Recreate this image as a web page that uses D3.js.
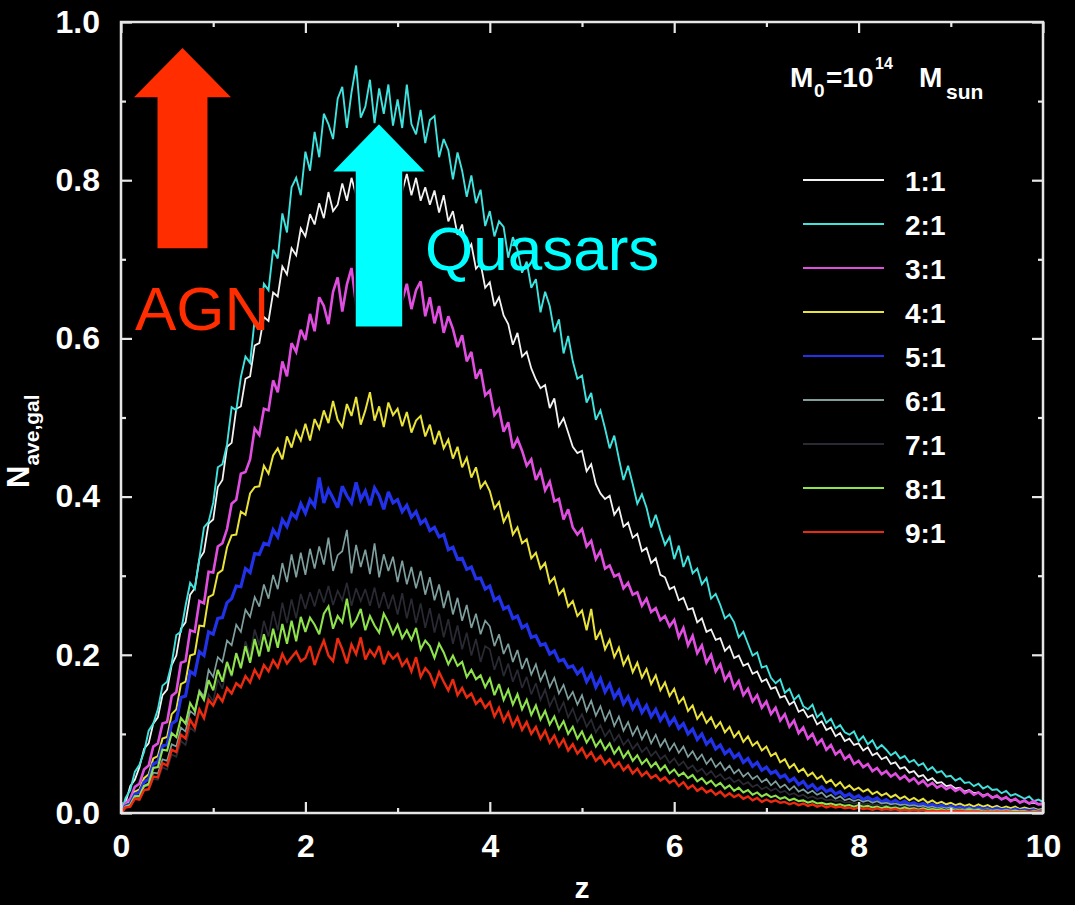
<!DOCTYPE html>
<html><head><meta charset="utf-8">
<script src="https://cdn.jsdelivr.net/npm/d3@7"></script>
<style>html,body{margin:0;padding:0;background:#000;} svg{display:block;}</style>
</head><body>
<svg id="chart" width="1075" height="905"></svg>
<script>
// ---------------- DATA ----------------
const zValues = [
0,0.05,0.1,0.15,0.2,0.25,0.3,0.35,0.4,0.45,0.5,0.55,0.6,0.65,0.7,0.75,0.8,0.85,0.9,0.95,
1,1.05,1.1,1.15,1.2,1.25,1.3,1.35,1.4,1.45,1.5,1.55,1.6,1.65,1.7,1.75,1.8,1.85,1.9,1.95,
2,2.05,2.1,2.15,2.2,2.25,2.3,2.35,2.4,2.45,2.5,2.55,2.6,2.65,2.7,2.75,2.8,2.85,2.9,2.95,
3,3.05,3.1,3.15,3.2,3.25,3.3,3.35,3.4,3.45,3.5,3.55,3.6,3.65,3.7,3.75,3.8,3.85,3.9,3.95,
4,4.05,4.1,4.15,4.2,4.25,4.3,4.35,4.4,4.45,4.5,4.55,4.6,4.65,4.7,4.75,4.8,4.85,4.9,4.95,
5,5.05,5.1,5.15,5.2,5.25,5.3,5.35,5.4,5.45,5.5,5.55,5.6,5.65,5.7,5.75,5.8,5.85,5.9,5.95,
6,6.05,6.1,6.15,6.2,6.25,6.3,6.35,6.4,6.45,6.5,6.55,6.6,6.65,6.7,6.75,6.8,6.85,6.9,6.95,
7,7.05,7.1,7.15,7.2,7.25,7.3,7.35,7.4,7.45,7.5,7.55,7.6,7.65,7.7,7.75,7.8,7.85,7.9,7.95,
8,8.05,8.1,8.15,8.2,8.25,8.3,8.35,8.4,8.45,8.5,8.55,8.6,8.65,8.7,8.75,8.8,8.85,8.9,8.95,
9,9.05,9.1,9.15,9.2,9.25,9.3,9.35,9.4,9.45,9.5,9.55,9.6,9.65,9.7,9.75,9.8,9.85,9.9,9.95,
10];

const seriesLabels = ["1:1","2:1","3:1","4:1","5:1","6:1","7:1","8:1","9:1"];

const ratio1 = [
0.000,0.013,0.034,0.042,0.058,0.081,0.088,0.113,0.121,0.149,0.156,0.187,0.199,0.233,0.241,0.276,0.284,0.321,0.330,0.366,
0.371,0.412,0.421,0.463,0.468,0.511,0.514,0.549,0.552,0.591,0.594,0.627,0.622,0.658,0.653,0.691,0.681,0.714,0.705,0.739,
0.729,0.757,0.744,0.771,0.752,0.785,0.761,0.769,0.796,0.774,0.803,0.781,0.812,0.789,0.823,0.798,0.841,0.795,0.817,0.789,
0.813,0.786,0.808,0.781,0.803,0.774,0.791,0.769,0.787,0.759,0.781,0.748,0.761,0.731,0.744,0.709,0.719,0.688,0.695,0.664,
0.671,0.641,0.652,0.629,0.618,0.592,0.607,0.577,0.583,0.562,0.548,0.537,0.541,0.512,0.524,0.489,0.499,0.481,0.463,0.455,
0.458,0.432,0.441,0.416,0.404,0.397,0.401,0.377,0.386,0.362,0.367,0.348,0.353,0.331,0.335,0.316,0.322,0.301,0.298,0.283,
0.286,0.269,0.272,0.257,0.259,0.241,0.246,0.229,0.232,0.219,0.221,0.205,0.211,0.196,0.199,0.186,0.189,0.176,0.179,0.166,
0.169,0.157,0.159,0.146,0.148,0.137,0.141,0.128,0.131,0.121,0.124,0.112,0.116,0.105,0.108,0.097,0.101,0.091,0.094,0.086,
0.088,0.079,0.083,0.073,0.076,0.068,0.071,0.062,0.064,0.056,0.058,0.051,0.053,0.046,0.048,0.041,0.044,0.038,0.039,0.034,
0.035,0.031,0.032,0.027,0.029,0.025,0.026,0.022,0.024,0.020,0.021,0.018,0.019,0.016,0.017,0.014,0.015,0.012,0.013,0.011,
0.011];

const ratio2 = [
0.000,0.019,0.029,0.052,0.061,0.077,0.104,0.113,0.131,0.161,0.166,0.189,0.225,0.229,0.262,0.291,0.283,0.322,0.361,0.368,
0.392,0.437,0.441,0.466,0.513,0.509,0.551,0.577,0.569,0.624,0.615,0.669,0.661,0.712,0.701,0.758,0.734,0.791,0.803,0.781,
0.836,0.812,0.861,0.829,0.884,0.871,0.852,0.903,0.918,0.866,0.911,0.945,0.879,0.893,0.927,0.872,0.916,0.884,0.921,0.869,
0.902,0.866,0.921,0.871,0.858,0.889,0.847,0.876,0.881,0.829,0.852,0.838,0.801,0.835,0.812,0.779,0.806,0.771,0.788,0.742,
0.761,0.729,0.748,0.741,0.702,0.728,0.712,0.683,0.697,0.664,0.675,0.633,0.659,0.641,0.608,0.624,0.581,0.603,0.571,0.549,
0.553,0.519,0.531,0.497,0.509,0.486,0.461,0.477,0.448,0.421,0.439,0.416,0.391,0.403,0.386,0.361,0.377,0.357,0.339,0.349,
0.321,0.338,0.311,0.325,0.303,0.309,0.289,0.297,0.271,0.277,0.263,0.246,0.251,0.241,0.222,0.229,0.214,0.199,0.203,0.184,
0.186,0.171,0.164,0.169,0.152,0.157,0.143,0.149,0.135,0.131,0.137,0.121,0.127,0.114,0.119,0.107,0.111,0.102,0.099,0.103,
0.091,0.097,0.087,0.092,0.081,0.086,0.080,0.073,0.077,0.069,0.072,0.064,0.067,0.060,0.063,0.054,0.058,0.051,0.053,0.046,
0.047,0.041,0.044,0.038,0.039,0.034,0.037,0.031,0.034,0.029,0.030,0.025,0.028,0.022,0.024,0.021,0.018,0.021,0.015,0.017,
0.014];

const ratio3 = [
0.000,0.012,0.018,0.033,0.037,0.055,0.060,0.084,0.088,0.113,0.115,0.148,0.153,0.190,0.192,0.231,0.229,0.268,0.265,0.305,
0.304,0.337,0.341,0.359,0.391,0.396,0.429,0.431,0.447,0.486,0.478,0.511,0.509,0.547,0.532,0.571,0.552,0.594,0.583,0.611,
0.598,0.631,0.609,0.652,0.641,0.618,0.659,0.677,0.634,0.668,0.689,0.642,0.671,0.652,0.698,0.661,0.637,0.684,0.672,0.641,
0.676,0.648,0.669,0.637,0.661,0.672,0.628,0.652,0.619,0.641,0.607,0.628,0.612,0.589,0.604,0.571,0.583,0.549,0.561,0.528,
0.534,0.503,0.511,0.482,0.494,0.461,0.473,0.458,0.439,0.447,0.421,0.433,0.408,0.419,0.394,0.397,0.371,0.384,0.361,0.352,
0.359,0.337,0.344,0.321,0.331,0.309,0.313,0.299,0.302,0.284,0.291,0.276,0.279,0.262,0.271,0.254,0.259,0.244,0.249,0.236,
0.244,0.222,0.234,0.212,0.224,0.202,0.212,0.190,0.200,0.179,0.188,0.168,0.177,0.158,0.167,0.149,0.157,0.141,0.149,0.133,
0.141,0.125,0.133,0.117,0.125,0.109,0.117,0.101,0.108,0.094,0.100,0.087,0.093,0.080,0.086,0.074,0.079,0.068,0.073,0.062,
0.066,0.058,0.062,0.053,0.057,0.049,0.053,0.046,0.050,0.043,0.047,0.040,0.044,0.037,0.041,0.034,0.038,0.032,0.035,0.030,
0.033,0.028,0.031,0.025,0.028,0.023,0.026,0.021,0.024,0.019,0.022,0.017,0.020,0.015,0.018,0.013,0.016,0.012,0.015,0.011,
0.012];

const ratio4 = [
0.000,0.010,0.014,0.027,0.030,0.044,0.049,0.069,0.072,0.094,0.096,0.125,0.131,0.163,0.166,0.199,0.201,0.237,0.236,0.273,
0.276,0.303,0.307,0.336,0.351,0.352,0.381,0.377,0.404,0.412,0.413,0.439,0.429,0.452,0.461,0.447,0.476,0.462,0.483,0.471,
0.492,0.471,0.498,0.486,0.509,0.493,0.521,0.497,0.488,0.517,0.502,0.526,0.491,0.509,0.532,0.496,0.514,0.488,0.519,0.503,
0.511,0.489,0.507,0.481,0.496,0.502,0.476,0.491,0.466,0.483,0.461,0.472,0.448,0.463,0.437,0.449,0.424,0.437,0.411,0.419,
0.407,0.385,0.393,0.368,0.379,0.352,0.361,0.341,0.346,0.322,0.329,0.309,0.316,0.291,0.298,0.276,0.283,0.261,0.268,0.249,
0.256,0.231,0.258,0.219,0.230,0.207,0.219,0.197,0.209,0.187,0.198,0.178,0.190,0.171,0.182,0.163,0.174,0.155,0.165,0.148,
0.157,0.139,0.146,0.129,0.136,0.119,0.127,0.114,0.121,0.108,0.115,0.102,0.109,0.096,0.103,0.090,0.097,0.085,0.090,0.079,
0.084,0.072,0.076,0.064,0.068,0.057,0.062,0.052,0.056,0.047,0.051,0.043,0.047,0.038,0.042,0.034,0.039,0.031,0.035,0.029,
0.032,0.027,0.030,0.024,0.027,0.022,0.025,0.020,0.023,0.018,0.021,0.016,0.019,0.015,0.018,0.013,0.016,0.012,0.014,0.011,
0.013,0.010,0.012,0.009,0.011,0.008,0.011,0.008,0.010,0.007,0.009,0.006,0.008,0.006,0.008,0.005,0.007,0.005,0.006,0.004,
0.005];

const ratio5 = [
0.000,0.009,0.012,0.024,0.026,0.039,0.043,0.062,0.065,0.085,0.086,0.113,0.117,0.146,0.148,0.179,0.175,0.204,0.199,0.229,
0.226,0.246,0.247,0.266,0.271,0.287,0.286,0.309,0.304,0.328,0.327,0.341,0.339,0.358,0.349,0.371,0.362,0.379,0.373,0.391,
0.379,0.396,0.388,0.424,0.392,0.409,0.398,0.386,0.413,0.401,0.392,0.418,0.396,0.407,0.389,0.411,0.401,0.384,0.406,0.392,
0.396,0.381,0.389,0.374,0.381,0.366,0.371,0.357,0.361,0.349,0.352,0.333,0.336,0.321,0.322,0.308,0.311,0.296,0.297,0.283,
0.287,0.269,0.273,0.258,0.261,0.246,0.249,0.234,0.238,0.222,0.224,0.212,0.214,0.201,0.205,0.192,0.194,0.184,0.186,0.176,
0.182,0.166,0.176,0.159,0.170,0.153,0.163,0.146,0.155,0.138,0.147,0.132,0.142,0.127,0.136,0.122,0.131,0.117,0.126,0.112,
0.120,0.107,0.113,0.100,0.106,0.093,0.100,0.087,0.093,0.081,0.086,0.075,0.080,0.070,0.075,0.064,0.069,0.059,0.064,0.054,
0.058,0.050,0.053,0.045,0.048,0.040,0.044,0.036,0.040,0.032,0.036,0.029,0.033,0.027,0.030,0.024,0.027,0.021,0.024,0.019,
0.022,0.017,0.020,0.016,0.019,0.014,0.017,0.013,0.016,0.012,0.015,0.011,0.013,0.010,0.012,0.009,0.011,0.008,0.010,0.007,
0.009,0.007,0.008,0.006,0.007,0.005,0.007,0.005,0.006,0.004,0.006,0.004,0.005,0.003,0.005,0.003,0.004,0.003,0.004,0.002,
0.003];

const ratio6 = [
0.000,0.008,0.010,0.021,0.022,0.034,0.035,0.051,0.050,0.068,0.066,0.087,0.084,0.108,0.103,0.129,0.124,0.155,0.147,0.181,
0.172,0.197,0.191,0.218,0.212,0.238,0.229,0.257,0.248,0.273,0.261,0.289,0.271,0.301,0.283,0.316,0.292,0.327,0.298,0.329,
0.301,0.334,0.309,0.337,0.314,0.348,0.306,0.326,0.331,0.358,0.303,0.339,0.311,0.333,0.302,0.341,0.298,0.327,0.306,0.324,
0.292,0.319,0.289,0.311,0.284,0.306,0.276,0.298,0.269,0.289,0.259,0.281,0.251,0.272,0.243,0.263,0.234,0.252,0.226,0.243,
0.236,0.211,0.226,0.201,0.214,0.191,0.206,0.182,0.196,0.175,0.188,0.167,0.179,0.159,0.171,0.151,0.162,0.144,0.153,0.137,
0.149,0.129,0.142,0.123,0.135,0.117,0.129,0.110,0.122,0.104,0.115,0.098,0.109,0.093,0.104,0.088,0.099,0.084,0.093,0.079,
0.088,0.076,0.084,0.071,0.078,0.067,0.074,0.062,0.069,0.058,0.064,0.054,0.060,0.050,0.055,0.046,0.051,0.043,0.047,0.039,
0.043,0.035,0.040,0.032,0.036,0.029,0.034,0.027,0.030,0.025,0.028,0.023,0.026,0.020,0.023,0.018,0.021,0.016,0.018,0.015,
0.017,0.014,0.016,0.013,0.015,0.012,0.013,0.011,0.012,0.010,0.011,0.009,0.010,0.008,0.009,0.007,0.008,0.006,0.007,0.006,
0.007,0.005,0.006,0.004,0.006,0.004,0.005,0.004,0.005,0.003,0.004,0.003,0.004,0.003,0.003,0.002,0.003,0.002,0.003,0.002,
0.002];

const ratio7 = [
0.000,0.007,0.008,0.018,0.018,0.028,0.029,0.043,0.042,0.058,0.055,0.074,0.071,0.091,0.086,0.108,0.103,0.129,0.122,0.150,
0.141,0.169,0.157,0.186,0.172,0.203,0.186,0.217,0.199,0.232,0.212,0.243,0.223,0.255,0.231,0.266,0.240,0.270,0.246,0.277,
0.258,0.279,0.261,0.283,0.266,0.287,0.263,0.281,0.269,0.291,0.262,0.284,0.268,0.283,0.262,0.285,0.259,0.279,0.258,0.276,
0.251,0.278,0.246,0.271,0.240,0.265,0.234,0.259,0.228,0.252,0.222,0.245,0.214,0.237,0.207,0.228,0.199,0.220,0.191,0.211,
0.207,0.181,0.198,0.173,0.189,0.166,0.181,0.158,0.172,0.150,0.164,0.143,0.156,0.135,0.147,0.128,0.140,0.121,0.132,0.115,
0.125,0.109,0.118,0.102,0.111,0.097,0.105,0.091,0.099,0.086,0.093,0.081,0.088,0.077,0.083,0.072,0.078,0.068,0.073,0.063,
0.069,0.060,0.065,0.056,0.060,0.052,0.056,0.048,0.053,0.045,0.049,0.042,0.045,0.039,0.042,0.036,0.039,0.033,0.036,0.030,
0.033,0.028,0.031,0.026,0.028,0.023,0.025,0.021,0.023,0.019,0.021,0.018,0.019,0.016,0.017,0.015,0.016,0.013,0.014,0.012,
0.013,0.011,0.012,0.010,0.011,0.009,0.010,0.008,0.009,0.007,0.008,0.007,0.008,0.006,0.007,0.005,0.006,0.005,0.006,0.004,
0.005,0.004,0.005,0.003,0.004,0.003,0.004,0.003,0.004,0.002,0.003,0.002,0.003,0.002,0.003,0.002,0.002,0.002,0.002,0.001,
0.002];

const ratio8 = [
0.000,0.008,0.010,0.021,0.021,0.034,0.037,0.057,0.058,0.080,0.079,0.101,0.096,0.120,0.113,0.139,0.129,0.153,0.143,0.168,
0.155,0.181,0.166,0.191,0.174,0.202,0.183,0.211,0.190,0.220,0.198,0.226,0.204,0.233,0.209,0.239,0.214,0.243,0.217,0.248,
0.229,0.247,0.238,0.226,0.252,0.261,0.233,0.249,0.241,0.271,0.236,0.244,0.258,0.231,0.249,0.237,0.228,0.252,0.241,0.226,
0.238,0.221,0.231,0.219,0.234,0.207,0.218,0.211,0.196,0.214,0.203,0.188,0.199,0.186,0.191,0.172,0.181,0.169,0.174,0.159,
0.170,0.149,0.163,0.143,0.156,0.137,0.150,0.131,0.143,0.124,0.136,0.118,0.129,0.112,0.122,0.106,0.116,0.100,0.109,0.094,
0.103,0.089,0.098,0.084,0.092,0.080,0.088,0.075,0.083,0.070,0.078,0.066,0.073,0.062,0.068,0.058,0.064,0.054,0.060,0.050,
0.055,0.047,0.051,0.044,0.048,0.040,0.044,0.037,0.041,0.034,0.038,0.031,0.035,0.028,0.032,0.026,0.029,0.023,0.026,0.021,
0.024,0.020,0.022,0.018,0.020,0.016,0.018,0.015,0.016,0.013,0.015,0.012,0.013,0.011,0.012,0.010,0.011,0.009,0.010,0.008,
0.010,0.008,0.009,0.007,0.008,0.006,0.008,0.006,0.007,0.005,0.007,0.005,0.006,0.004,0.006,0.004,0.005,0.004,0.005,0.003,
0.005,0.003,0.004,0.003,0.004,0.003,0.004,0.002,0.003,0.002,0.003,0.002,0.003,0.002,0.003,0.002,0.002,0.001,0.002,0.001,
0.002];

const ratio9 = [
0.000,0.007,0.008,0.018,0.017,0.029,0.030,0.046,0.045,0.063,0.060,0.080,0.077,0.099,0.094,0.118,0.108,0.131,0.120,0.143,
0.136,0.149,0.141,0.158,0.151,0.164,0.159,0.173,0.165,0.181,0.171,0.187,0.179,0.193,0.184,0.201,0.189,0.197,0.204,0.192,
0.196,0.211,0.187,0.204,0.218,0.199,0.192,0.221,0.207,0.189,0.213,0.201,0.222,0.194,0.206,0.198,0.211,0.188,0.203,0.195,
0.201,0.186,0.194,0.179,0.197,0.172,0.183,0.176,0.161,0.178,0.166,0.155,0.169,0.149,0.158,0.146,0.151,0.138,0.144,0.133,
0.140,0.122,0.133,0.116,0.127,0.110,0.121,0.105,0.115,0.100,0.109,0.094,0.104,0.089,0.098,0.084,0.093,0.079,0.087,0.075,
0.082,0.070,0.077,0.066,0.072,0.062,0.068,0.058,0.064,0.054,0.060,0.050,0.056,0.047,0.052,0.044,0.048,0.041,0.045,0.038,
0.042,0.034,0.039,0.031,0.035,0.028,0.032,0.026,0.029,0.023,0.027,0.021,0.025,0.020,0.023,0.018,0.021,0.016,0.019,0.014,
0.017,0.014,0.016,0.013,0.014,0.011,0.013,0.010,0.012,0.009,0.011,0.008,0.010,0.007,0.009,0.007,0.008,0.006,0.007,0.005,
0.007,0.005,0.006,0.004,0.006,0.004,0.005,0.004,0.005,0.003,0.004,0.003,0.004,0.003,0.004,0.002,0.003,0.002,0.003,0.002,
0.003,0.002,0.003,0.002,0.002,0.002,0.002,0.001,0.002,0.001,0.002,0.001,0.002,0.001,0.001,0.001,0.001,0.001,0.001,0.001,
0.001];

const seriesValues = [ratio1, ratio2, ratio3, ratio4, ratio5, ratio6, ratio7, ratio8, ratio9];

const xMajorTicks = [0, 2, 4, 6, 8, 10];
const xMinorTicks = [1, 3, 5, 7, 9];
const yMajorTicks = [0, 0.2, 0.4, 0.6, 0.8, 1.0];
const yMinorTicks = [0.1, 0.3, 0.5, 0.7, 0.9];

// annotation arrows in data units
const arrowNotes = [
  {label: "AGN",     z: 0.667, tip: 0.967, headBase: 0.905, tail: 0.714, headHalf: 0.526, shaftHalf: 0.271, textZ: 0.152, textY: 0.611},
  {label: "Quasars", z: 2.798, tip: 0.872, headBase: 0.810, tail: 0.614, headHalf: 0.515, shaftHalf: 0.260, textZ: 3.297, textY: 0.686}
];

// ---------------- STYLE ----------------
const seriesColors = ["#f2f2f2","#40e2de","#e04ee0","#e8e23a","#2232ea","#7f9e9e","#2a2a34","#8ee24c","#ec2a10"];
const seriesWidths = [1.8, 1.9, 2.6, 2.0, 3.2, 1.7, 1.7, 2.1, 2.4];
const arrowColors = ["#ff2d00", "#00ffff"];

const W = 1075, H = 905;
const M = {left: 121, right: 1043, top: 22, bottom: 813};
const FONT = "'Liberation Sans', Arial, Helvetica, sans-serif";

const svg = d3.select("#chart");
svg.append("rect").attr("width", W).attr("height", H).attr("fill", "#000");

const x = d3.scaleLinear().domain([0, 10]).range([M.left, M.right]);
const y = d3.scaleLinear().domain([0, 1]).range([M.bottom, M.top]);

svg.append("defs").append("clipPath").attr("id", "plotClip")
  .append("rect").attr("x", M.left).attr("y", M.top)
  .attr("width", M.right - M.left).attr("height", M.bottom - M.top);

// curves
const line = d3.line().x(d => x(d[0])).y(d => y(d[1]));
const curves = svg.append("g").attr("clip-path", "url(#plotClip)");
seriesValues.forEach((vals, i) => {
  const pts = zValues.map((z, j) => [z, vals[j]]);
  curves.append("path").datum(pts)
    .attr("d", line)
    .attr("fill", "none")
    .attr("stroke", seriesColors[i])
    .attr("stroke-width", seriesWidths[i])
    .attr("stroke-linejoin", "miter")
    .attr("stroke-miterlimit", 3);
});

// axes
const axisColor = "#e6e6e6";
function styleAxis(g) {
  g.select(".domain").remove();
  g.selectAll(".tick line").attr("stroke", axisColor).attr("stroke-width", 2.2);
  g.selectAll(".tick text").attr("fill", "#ffffff")
    .attr("font-family", FONT).attr("font-size", 32).attr("font-weight", "bold");
}
const MAJ = 11, MIN = 5;
svg.append("g").attr("transform", `translate(0,${M.bottom})`)
  .call(d3.axisBottom(x).tickValues(xMajorTicks).tickSize(-MAJ).tickPadding(21).tickFormat(d3.format("d")))
  .call(styleAxis);
svg.append("g").attr("transform", `translate(0,${M.bottom})`)
  .call(d3.axisBottom(x).tickValues(xMinorTicks).tickSize(-MIN).tickFormat(""))
  .call(styleAxis);
svg.append("g").attr("transform", `translate(0,${M.top})`)
  .call(d3.axisTop(x).tickValues(xMajorTicks).tickSize(-MAJ).tickFormat(""))
  .call(styleAxis);
svg.append("g").attr("transform", `translate(0,${M.top})`)
  .call(d3.axisTop(x).tickValues(xMinorTicks).tickSize(-MIN).tickFormat(""))
  .call(styleAxis);
svg.append("g").attr("transform", `translate(${M.left},0)`)
  .call(d3.axisLeft(y).tickValues(yMajorTicks).tickSize(-MAJ).tickPadding(21).tickFormat(d3.format(".1f")))
  .call(styleAxis);
svg.append("g").attr("transform", `translate(${M.left},0)`)
  .call(d3.axisLeft(y).tickValues(yMinorTicks).tickSize(-MIN).tickFormat(""))
  .call(styleAxis);
svg.append("g").attr("transform", `translate(${M.right},0)`)
  .call(d3.axisRight(y).tickValues(yMajorTicks).tickSize(-MAJ).tickFormat(""))
  .call(styleAxis);
svg.append("g").attr("transform", `translate(${M.right},0)`)
  .call(d3.axisRight(y).tickValues(yMinorTicks).tickSize(-MIN).tickFormat(""))
  .call(styleAxis);

// frame
svg.append("rect").attr("x", M.left).attr("y", M.top)
  .attr("width", M.right - M.left).attr("height", M.bottom - M.top)
  .attr("fill", "none").attr("stroke", axisColor).attr("stroke-width", 2.5);

// axis titles
svg.append("text").attr("x", (M.left + M.right) / 2).attr("y", 898)
  .attr("text-anchor", "middle").attr("fill", "#fff")
  .attr("font-family", FONT).attr("font-size", 30).attr("font-weight", "bold").text("z");

const yl = svg.append("text").attr("transform", "translate(29,488) rotate(-90)")
  .attr("fill", "#fff").attr("font-family", FONT).attr("font-weight", "bold");
yl.append("tspan").attr("font-size", 31).text("N");
yl.append("tspan").attr("font-size", 21).attr("dy", 10).text("ave,gal");

// legend title
const lt = svg.append("text").attr("fill", "#fff").attr("font-family", FONT).attr("font-weight", "bold");
lt.append("tspan").attr("x", 790).attr("y", 87).attr("font-size", 28).text("M");
lt.append("tspan").attr("x", 814).attr("y", 97).attr("font-size", 19).text("0");
lt.append("tspan").attr("x", 826).attr("y", 87).attr("font-size", 28).text("=10");
lt.append("tspan").attr("x", 875).attr("y", 69).attr("font-size", 16).text("14");
lt.append("tspan").attr("x", 919).attr("y", 87).attr("font-size", 28).text("M");
lt.append("tspan").attr("x", 946).attr("y", 99).attr("font-size", 21).text("sun");

// legend entries
const legend = svg.append("g");
seriesLabels.forEach((lab, i) => {
  const ly = 180 + i * 44;
  legend.append("line").attr("x1", 803).attr("x2", 884).attr("y1", ly).attr("y2", ly)
    .attr("stroke", seriesColors[i]).attr("stroke-width", 2.2);
  legend.append("text").attr("x", 905).attr("y", ly + 11)
    .attr("fill", "#fff").attr("font-family", FONT).attr("font-size", 28).attr("font-weight", "bold")
    .text(lab);
});

// arrows + labels
arrowNotes.forEach((a, i) => {
  const pts = [
    [x(a.z), y(a.tip)],
    [x(a.z + a.headHalf), y(a.headBase)],
    [x(a.z + a.shaftHalf), y(a.headBase)],
    [x(a.z + a.shaftHalf), y(a.tail)],
    [x(a.z - a.shaftHalf), y(a.tail)],
    [x(a.z - a.shaftHalf), y(a.headBase)],
    [x(a.z - a.headHalf), y(a.headBase)]
  ];
  svg.append("path").attr("d", "M" + pts.map(p => p.join(",")).join("L") + "Z")
    .attr("fill", arrowColors[i]).attr("stroke", i === 1 ? "#000" : "none").attr("stroke-width", 1.5);
  svg.append("text").attr("x", x(a.textZ)).attr("y", y(a.textY))
    .attr("fill", arrowColors[i]).attr("font-family", FONT).attr("font-size", 62)
    .text(a.label);
});
</script>
</body></html>
